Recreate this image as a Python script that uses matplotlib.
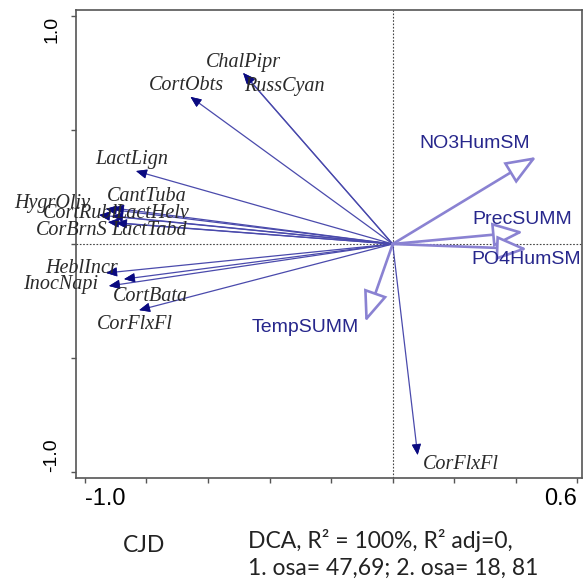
import matplotlib
matplotlib.use("Agg")
import matplotlib.pyplot as plt
from matplotlib.patches import FancyArrowPatch

# ---------------- data ----------------
species = ["ChalPipr", "RussCyan", "CortObts", "LactLign", "HygrOliv", "CantTuba",
           "CortRubl", "LactHelv", "CorBrnS", "LactTabd", "HeblIncr", "CortBata",
           "InocNapi", "CorFlxFl", "CorFlxFl"]
sp_x = [-0.486, -0.482, -0.657, -0.834, -0.932, -0.909, -0.954, -0.912, -0.925, -0.899,
        -0.931, -0.873, -0.922, -0.824, 0.081]
sp_y = [0.750, 0.745, 0.645, 0.320, 0.154, 0.158, 0.127, 0.123, 0.096, 0.092,
        -0.127, -0.154, -0.184, -0.290, -0.925]

env = ["NO3HumSM", "PrecSUMM", "PO4HumSM", "TempSUMM"]
env_x = [0.467, 0.424, 0.437, -0.089]
env_y = [0.382, 0.053, -0.022, -0.342]

xticks = [-1.0, -0.8, -0.6, -0.4, -0.2, 0.0, 0.2, 0.4, 0.6]
xticklabels = ["-1.0", "", "", "", "", "", "", "", "0.6"]
yticks = [-1.0, -0.5, 0.0, 0.5, 1.0]
yticklabels = ["-1.0", "", "", "", "1.0"]

caption_left = "CJD"
caption_right = ["DCA, R² = 100%, R² adj=0,", "1. osa= 47,69; 2. osa= 18, 81"]

# label offsets (pixels) relative to arrow tips -- layout only
sp_off = [(0, 10), (40, -12), (-4, 11), (-4, 12), (-54, 5), (34, 11), (-19, 2), (40, 2),
          (-36, -8), (33, -7), (-25, 4), (26, -17), (-48, 1), (-4, -14), (43, -10)]
env_off = [(-62, 13), (-1, 12), (-1, -10), (-60, -5)]

# ---------------- figure ----------------
fig = plt.figure(figsize=(5.88, 5.83), dpi=100)
ax = fig.add_axes([76/588, 1 - 478/583, (582 - 76)/588, (478 - 10)/583])
ax.set_xlim(-1.029, 0.615)
ax.set_ylim(-1.026, 1.026)

spine_col = "#555555"
for s in ax.spines.values():
    s.set_color(spine_col)
    s.set_linewidth(1.2)

ax.axhline(0, color="#444444", lw=0.8, ls=(0, (1.5, 1.5)), zorder=1)
ax.axvline(0, color="#444444", lw=0.8, ls=(0, (1.5, 1.5)), zorder=1)

ax.set_xticks(xticks)
ax.set_xticklabels(xticklabels, fontsize=17, family="Liberation Sans")
ax.set_yticks(yticks)
ax.set_yticklabels(yticklabels, fontsize=14, family="Liberation Sans", rotation=90, va="center")
ax.tick_params(axis="both", direction="out", length=3.5, width=1.0, color=spine_col)
ax.tick_params(axis="x", pad=4)
ax.tick_params(axis="y", pad=8)
xl = ax.get_xticklabels()
xl[0].set_horizontalalignment("left")
xl[-1].set_horizontalalignment("right")
yl = ax.get_yticklabels()
yl[0].set_verticalalignment("bottom")
yl[-1].set_verticalalignment("top")

# species arrows
for name, x, y, off in zip(species, sp_x, sp_y, sp_off):
    ar = FancyArrowPatch((0, 0), (x, y), arrowstyle="-|>,head_length=6,head_width=2.6",
                         mutation_scale=1, lw=0.9, color="#4a4aac", zorder=3,
                         shrinkA=0, shrinkB=0)
    ax.add_patch(ar)
    hd = FancyArrowPatch((x * 0.97, y * 0.97), (x, y),
                         arrowstyle="-|>,head_length=7,head_width=3",
                         mutation_scale=1, lw=0.5, color="#0a0a80", zorder=4,
                         shrinkA=0, shrinkB=0)
    ax.add_patch(hd)
    ax.annotate(name, xy=(x, y), xytext=off, textcoords="offset pixels",
                ha="center", va="center", fontsize=14.5, style="italic",
                family="Liberation Serif", color="#2a2a2a", zorder=5)

# environmental arrows
env_col = "#8a82d2"
for name, x, y, off in zip(env, env_x, env_y, env_off):
    ar = FancyArrowPatch((0, 0), (x, y), arrowstyle="-|>,head_length=19,head_width=7.5",
                         mutation_scale=1, lw=1.9, edgecolor=env_col, facecolor="white",
                         zorder=3, shrinkA=0, shrinkB=0, joinstyle="miter")
    ax.add_patch(ar)
    ax.annotate(name, xy=(x, y), xytext=off, textcoords="offset pixels",
                ha="center", va="center", fontsize=14, family="Liberation Sans",
                color="#27278c", zorder=5)

# captions
fig.text(144/588, 1 - 546/583, caption_left, ha="center", va="center",
         fontsize=16.5, family="Lato", color="#222222")
fig.text(248/588, 1 - 541/583, caption_right[0], ha="left", va="center",
         fontsize=16.5, family="Lato", color="#222222")
fig.text(248/588, 1 - 568/583, caption_right[1], ha="left", va="center",
         fontsize=16.5, family="Lato", color="#222222")

fig.savefig("out.png", dpi=100)
